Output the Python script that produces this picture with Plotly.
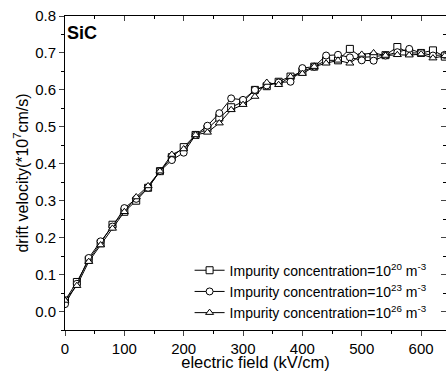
import plotly.graph_objects as go

field = list(range(0, 660, 20))

v_1e20 = [0.03, 0.08, 0.14, 0.185, 0.235, 0.27, 0.30, 0.335, 0.38, 0.418, 0.445,
          0.478, 0.495, 0.525, 0.553, 0.568, 0.60, 0.61, 0.622, 0.636, 0.65,
          0.663, 0.68, 0.68, 0.711, 0.688, 0.69, 0.694, 0.716, 0.70, 0.70, 0.707, 0.69]
v_1e23 = [0.02, 0.075, 0.145, 0.19, 0.23, 0.28, 0.305, 0.335, 0.38, 0.41, 0.43,
          0.478, 0.503, 0.537, 0.577, 0.573, 0.60, 0.612, 0.62, 0.622, 0.659,
          0.663, 0.693, 0.695, 0.688, 0.68, 0.679, 0.693, 0.702, 0.711, 0.70, 0.693, 0.695]
v_1e26 = [0.03, 0.07, 0.135, 0.18, 0.225, 0.27, 0.31, 0.34, 0.38, 0.425, 0.44,
          0.478, 0.485, 0.51, 0.546, 0.56, 0.582, 0.62, 0.614, 0.636, 0.644,
          0.663, 0.672, 0.68, 0.672, 0.696, 0.70, 0.693, 0.695, 0.694, 0.697, 0.686, 0.692]

names = ["Impurity concentration=10<sup>20</sup> m<sup>-3</sup>",
         "Impurity concentration=10<sup>23</sup> m<sup>-3</sup>",
         "Impurity concentration=10<sup>26</sup> m<sup>-3</sup>"]
symbols = ["square", "circle", "triangle-up"]

FONT = "Liberation Sans, Arial, sans-serif"

fig = go.Figure()
for ys, nm, sym in zip([v_1e20, v_1e23, v_1e26], names, symbols):
    fig.add_trace(go.Scatter(
        x=field, y=ys, name=nm, mode="lines+markers",
        line=dict(color="black", width=1),
        marker=dict(symbol=sym, size=7, color="white",
                    line=dict(color="black", width=1)),
        cliponaxis=True,
    ))
# helper trace for mirrored axes
fig.add_trace(go.Scatter(x=[None], y=[None], xaxis="x2", yaxis="y2",
                         showlegend=False, hoverinfo="skip"))

xr = [0, 642]
yr = [-0.05, 0.8]

fig.update_layout(
    width=446, height=371,
    margin=dict(l=65, r=0, t=16, b=41),
    paper_bgcolor="white", plot_bgcolor="white",
    font=dict(family=FONT, size=15, color="black"),
    showlegend=True,
    legend=dict(x=0.327, y=0.24, xanchor="left", yanchor="top",
                bgcolor="rgba(0,0,0,0)", font=dict(size=14, family=FONT),
                tracegroupgap=0, itemwidth=30),
    xaxis=dict(range=xr, dtick=100, tick0=0, ticks="outside", ticklen=5,
               showline=True, linecolor="black", linewidth=1, showgrid=False,
               zeroline=False, tickfont=dict(size=15),
               minor=dict(ticks="outside", dtick=50, ticklen=3, tickcolor="black"),
               title=dict(text="electric field (kV/cm)", standoff=1,
                          font=dict(size=16.5))),
    xaxis2=dict(range=xr, overlaying="x", side="top", anchor="y",
                dtick=100, tick0=0, ticks="inside", ticklen=5,
                showticklabels=False, showline=True, linecolor="black",
                linewidth=1, showgrid=False, zeroline=False,
                minor=dict(ticks="inside", dtick=50, ticklen=3, tickcolor="black")),
    yaxis=dict(range=yr, dtick=0.1, tick0=0, tickformat=".1f", ticks="outside",
               ticklen=5, showline=True, linecolor="black", linewidth=1,
               showgrid=False, zeroline=False, tickfont=dict(size=15),
               minor=dict(ticks="outside", dtick=0.05, ticklen=3, tickcolor="black"),
               title=dict(text="drift velocity(*10<sup>7</sup>cm/s)", standoff=2,
                          font=dict(size=16))),
    yaxis2=dict(range=yr, overlaying="y", side="right", anchor="x",
                dtick=0.1, tick0=0, ticks="inside", ticklen=5,
                showticklabels=False, showline=False, showgrid=False,
                zeroline=False,
                minor=dict(ticks="inside", dtick=0.05, ticklen=3, tickcolor="black")),
    annotations=[dict(text="<b>SiC</b>", xref="paper", yref="paper",
                      x=0.0, y=0.946, xanchor="left", yanchor="middle",
                      showarrow=False, font=dict(size=18, family=FONT))],
)

fig.write_html("out.html")
